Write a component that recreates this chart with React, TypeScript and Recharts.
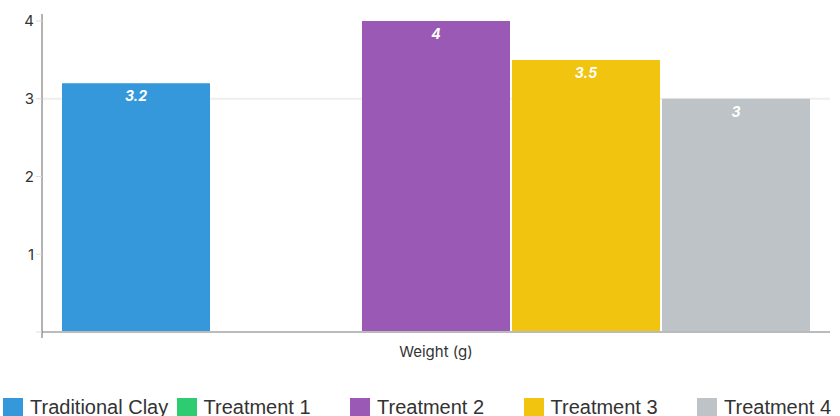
import React from 'react';
import { BarChart, Bar, XAxis, YAxis, CartesianGrid, ReferenceLine, LabelList, Legend } from 'recharts';

const categories = ['Weight (g)'];
const seriesNames = ['Traditional Clay', 'Treatment 1', 'Treatment 2', 'Treatment 3', 'Treatment 4'];
const seriesKeys = ['clay', 't1', 't2', 't3', 't4'];
const seriesColors = ['#3498db', '#2ecc71', '#9b59b6', '#f1c40f', '#bdc3c7'];
const clayValues = [3.2];
const t1Values: (number | null)[] = [null];
const t2Values = [4];
const t3Values = [3.5];
const t4Values = [3];
const yTicks = [0, 1, 2, 3, 4];
const gridValues = [3];

const allValues = [clayValues, t1Values, t2Values, t3Values, t4Values];

const data = categories.map((name, i) => {
  const row: Record<string, string | number | null> = { name };
  seriesKeys.forEach((k, s) => {
    row[k] = allValues[s][i];
  });
  return row;
});

const FONT = 'Inter, "Noto Sans", sans-serif';

const LegendContent = () => (
  <div style={{ display: 'flex', paddingLeft: 3, paddingTop: 36, fontFamily: '"Liberation Sans", Arial, sans-serif', fontSize: 20, color: '#333' }}>
    {seriesNames.map((n, i) => (
      <div key={n} style={{ width: 173.5, flexShrink: 0, display: 'flex', alignItems: 'center', whiteSpace: 'nowrap' }}>
        <span style={{ display: 'inline-block', width: 20, height: 20, background: seriesColors[i], marginRight: 7 }} />
        <span>{n}</span>
      </div>
    ))}
  </div>
);

export default function App() {
  return (
    <div style={{ width: 840, height: 416, overflow: 'hidden' }}>
      <style>{`body{margin:0}`}</style>
      <BarChart
        width={840}
        height={416}
        data={data}
        margin={{ top: 14, right: 10, left: 0, bottom: 0 }}
        barGap={2}
        barSize={148}
      >
        <CartesianGrid vertical={false} horizontalValues={gridValues} stroke="#eeeeee" strokeWidth={2} />
        <XAxis
          dataKey="name"
          axisLine={false}
          tickLine={false}
          tick={{ fontSize: 15, fill: '#333', fontFamily: FONT }}
          height={22}
        />
        <YAxis
          width={42}
          domain={[0, 4]}
          ticks={yTicks}
          padding={{ top: 7, bottom: 6 }}
          tickFormatter={(v: number) => (v === 0 ? '' : String(v))}
          axisLine={{ stroke: '#666' }}
          tickLine={{ stroke: '#dddddd' }}
          tick={{ fontSize: 15, fill: '#333', fontFamily: FONT }}
        />
        {seriesKeys.map((k, i) => (
          <Bar key={k} dataKey={k} name={seriesNames[i]} fill={seriesColors[i]} isAnimationActive={false}>
            <LabelList
              dataKey={k}
              position="insideTop"
              offset={8}
              fill="#fff"
              style={{ fontStyle: 'italic', fontWeight: 700, fontSize: 14, fontFamily: FONT }}
            />
          </Bar>
        ))}
        <ReferenceLine y={0} stroke="#bbbbbb" strokeWidth={2} />
        <Legend verticalAlign="bottom" height={56} content={<LegendContent />} />
      </BarChart>
    </div>
  );
}
